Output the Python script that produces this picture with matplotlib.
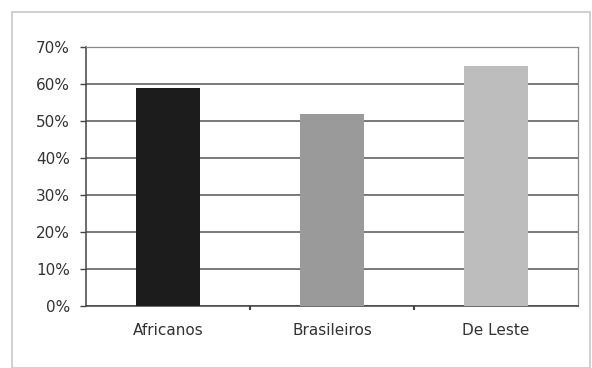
import matplotlib
matplotlib.use("Agg")
import matplotlib.pyplot as plt
from matplotlib.patches import Rectangle
from matplotlib.ticker import PercentFormatter, FixedLocator

categories = ["Africanos", "Brasileiros", "De Leste"]
values = [59, 52, 65]
colors = ["#1c1c1c", "#9a9a9a", "#bdbdbd"]
yticks = [0, 10, 20, 30, 40, 50, 60, 70]

plt.rcParams["font.family"] = ["DejaVu Sans"]

fig = plt.figure(figsize=(5.92, 3.68), dpi=100)
fig.patches.append(Rectangle((12 / 592, 0), 578 / 592, 356 / 368,
                             transform=fig.transFigure, fill=False,
                             edgecolor="#c8c8c8", linewidth=1.2))
ax = fig.add_axes([86 / 592, 62 / 368, 492 / 592, 259 / 368])

xs = range(len(categories))
ax.bar(xs, values, width=0.39, color=colors, zorder=3)

ax.set_xlim(-0.5, len(categories) - 0.5)
ax.set_ylim(0, 70)
ax.set_yticks(yticks)
ax.yaxis.set_major_formatter(PercentFormatter(decimals=0))
ax.set_xticks(list(xs))
ax.set_xticklabels(categories)
ax.xaxis.set_minor_locator(FixedLocator([0.5, 1.5]))

ax.grid(True, axis="y", color="#555555", linewidth=1.1, zorder=1)
for side in ["left", "bottom"]:
    ax.spines[side].set_color("#444444")
    ax.spines[side].set_linewidth(1.1)
for side in ["top", "right"]:
    ax.spines[side].set_color("#888888")
    ax.spines[side].set_linewidth(0.9)

ax.tick_params(axis="y", length=4, width=1, color="#444444", pad=7.5,
               labelsize=11, labelcolor="#333333")
ax.tick_params(axis="x", which="major", length=0, pad=12,
               labelsize=11, labelcolor="#333333")
ax.tick_params(axis="x", which="minor", length=3, width=1.5, color="#444444")

fig.savefig("out.png", dpi=100)
